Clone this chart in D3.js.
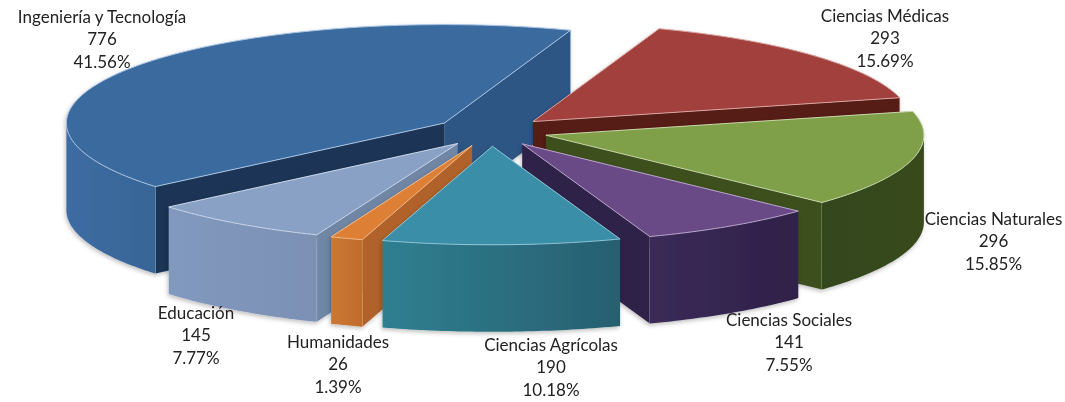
<!DOCTYPE html>
<html><head><meta charset="utf-8">
<script src="https://cdnjs.cloudflare.com/ajax/libs/d3/7.8.5/d3.min.js"></script>
<style>html,body{margin:0;padding:0;background:#fff}svg{display:block}text{font-family:Lato,"Open Sans",sans-serif;fill:#222}</style>
</head><body><svg id="c" width="1065" height="402"></svg>
<script>
// Data (clockwise, beginning with the slice at the back right)
const categories = ["Ciencias Médicas","Ciencias Naturales","Ciencias Sociales","Ciencias Agrícolas","Humanidades","Educación","Ingeniería y Tecnología"];
const values = [293,296,141,190,26,145,776];
const percentLabels = ["15.69%","15.85%","7.55%","10.18%","1.39%","7.77%","41.56%"];

// Styling, one entry per category
const topColors   = ["#a2403d","#7f9f4a","#6b4a87","#3a8ea8","#dd7f35","#8aa1c6","#3b6b9f"];
const rimColors   = ["#d9a3a0","#c8d6a8","#b8a6cc","#8fc6d6","#f2bb88","#cdd8ea","#a9c4e4"];
const sideColors  = ["#561a18","#3d4f1f","#2f2148","#2a6f80","#b0622a","#6f86a5","#1d3656"];
const side2Colors = ["#561a18","#3d4f1f","#2f2148","#2a6f80","#b0622a","#6f86a5","#2e5685"];
const wallLeft    = ["#561a18","#33461b","#3b2a58","#2f7f90","#cc7833","#8299bf","#3d6ca2"];
const wallRight   = ["#561a18","#384a1d","#2f2148","#275f70","#c06c2c","#7b90b4","#386596"];
const drawOrder = [6,0,1,2,5,4,3];
const labelPos = [[885,16.5],[993.5,219.5],[789,320.5],[551,345.5],[338,342.5],[196,313.5],[102,17.5]];

const width=1065,height=402,cx=491,cy=131.5,Rx=378,Ry=98.5,depth=87,explode=0.15;
const sx=d3.scaleLinear().domain([-1,1]).range([cx-Rx,cx+Rx]);
const sy=d3.scaleLinear().domain([-1,1]).range([cy+Ry,cy-Ry]);

const rot=19.5*Math.PI/180;
const arcs=d3.pie().sort(null).startAngle(rot).endAngle(rot+2*Math.PI)(values);

const svg=d3.select("#c");
const defs=svg.append("defs");
const blur=defs.append("filter").attr("id","shadow").attr("x","-10%").attr("y","-10%").attr("width","120%").attr("height","125%");
blur.append("feDropShadow").attr("dx",-1).attr("dy",2).attr("stdDeviation",2).attr("flood-color","#000").attr("flood-opacity",0.25);
categories.forEach((c,i)=>{
  const g=defs.append("linearGradient").attr("id","w"+i);
  g.append("stop").attr("offset","0").attr("stop-color",wallLeft[i]);
  g.append("stop").attr("offset","1").attr("stop-color",wallRight[i]);
});

const line=d3.line().curve(d3.curveLinear);
function pt(a,r,o){return [sx(r*Math.sin(a)+explode*Math.sin(o)),sy(r*Math.cos(a)+explode*Math.cos(o))];}
function samples(a0,a1){const n=Math.max(2,Math.ceil((a1-a0)/0.015));return d3.range(n+1).map(k=>a0+(a1-a0)*k/n);}

drawOrder.forEach(i=>{
  const d=arcs[i],a0=d.startAngle,a1=d.endAngle,o=(a0+a1)/2;
  const g=svg.append("g").attr("filter","url(#shadow)");
  const apex=pt(0,0,o);
  const down=p=>[p[0],p[1]+depth];
  const rim=samples(a0,a1).map(a=>pt(a,1,o));
  const stroke=rimColors[i];
  // straight side walls
  const walls=[[a1,a1+Math.PI/2,side2Colors[i]],[a0,a0-Math.PI/2,sideColors[i]]];
  walls.forEach(([a,n,col])=>{
    if(Math.cos(n)>=0) return;
    const p=pt(a,1,o);
    g.append("path").attr("d",line([apex,p,down(p),down(apex)])+"Z").attr("fill",col);
    g.append("path").attr("d",line([p,down(p)])).attr("stroke",stroke).attr("stroke-width",0.8).attr("fill","none").attr("opacity",0.7);
  });
  // curved outer wall: only the part facing the viewer
  const lo=Math.max(a0,Math.PI/2),hi=Math.min(a1,1.5*Math.PI);
  if(hi>lo){
    const top=samples(lo,hi).map(a=>pt(a,1,o));
    g.append("path").attr("d",line(top.concat(top.map(down).reverse()))+"Z").attr("fill",`url(#w${i})`);
  }
  // top face
  g.append("path").attr("d",line([apex].concat(rim))+"Z").attr("fill",topColors[i]).attr("stroke",stroke).attr("stroke-width",1).attr("stroke-linejoin","round");
});

categories.forEach((c,i)=>{
  const t=svg.append("text").attr("text-anchor","middle").attr("font-size",17);
  [c,values[i],percentLabels[i]].forEach((s,k)=>{
    t.append("tspan").attr("x",labelPos[i][0]).attr("y",labelPos[i][1]+5+k*22.5).text(s);
  });
});
</script></body></html>
